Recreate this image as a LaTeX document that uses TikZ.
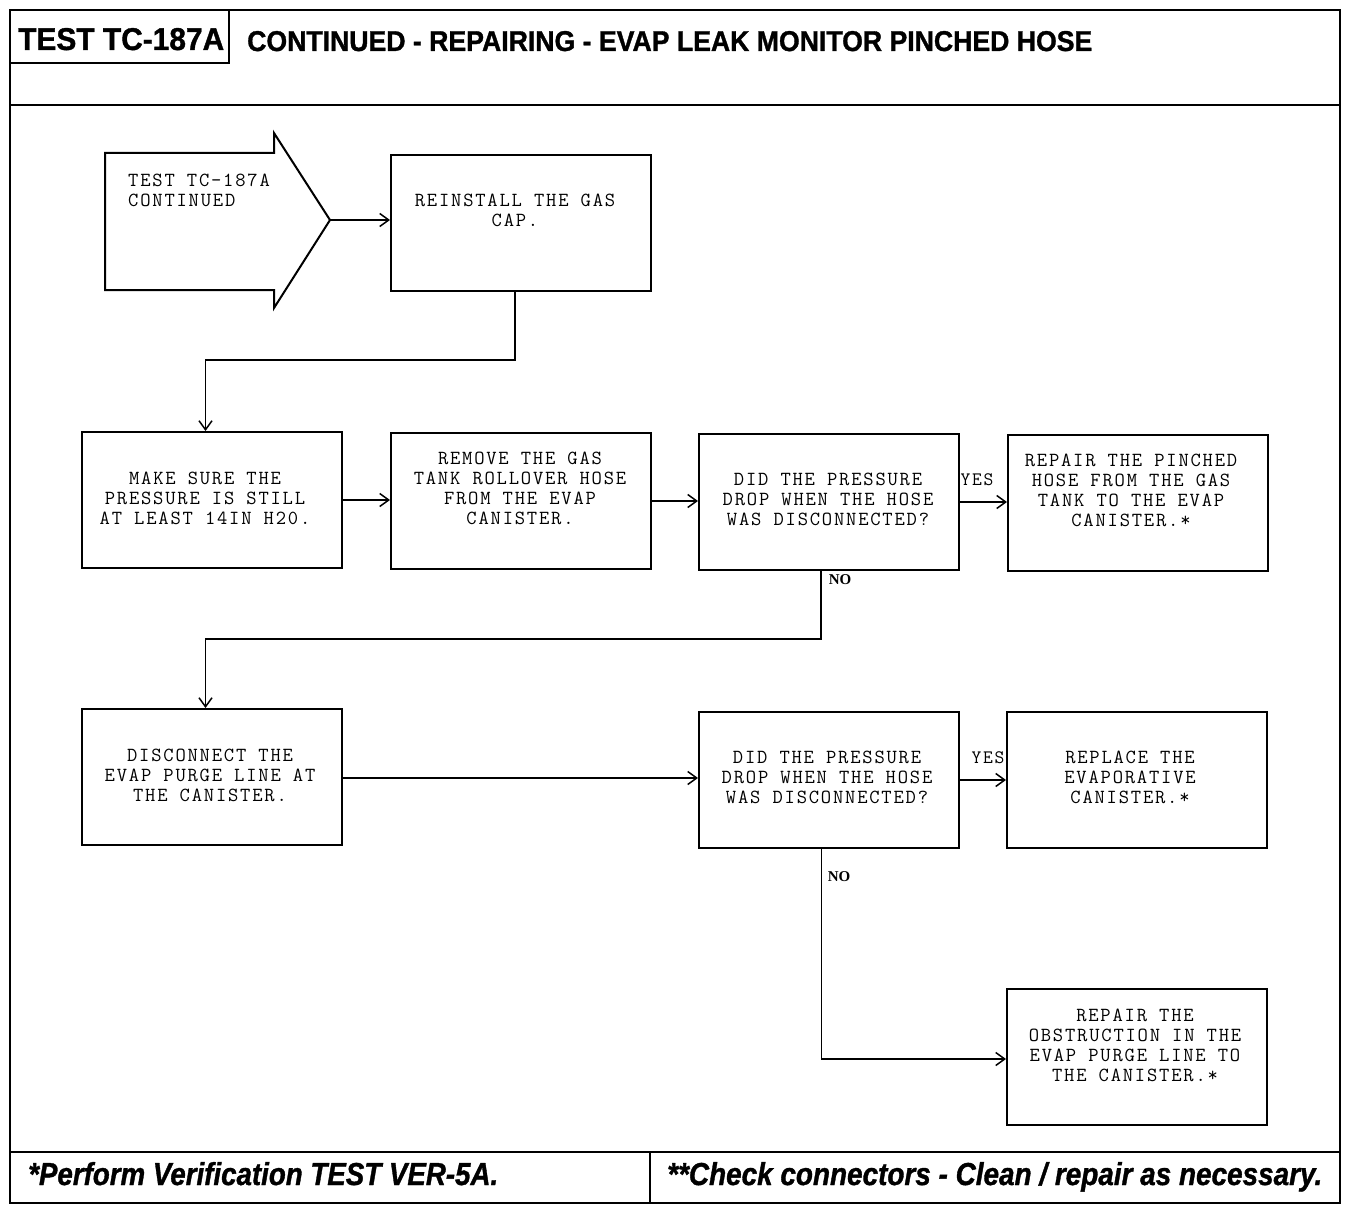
\documentclass[tikz,border=0pt]{standalone}
\usepackage{fontspec}
\setmainfont{Liberation Serif}
\newfontfamily\boxfont[LetterSpace=9]{Latin Modern Mono}
\newfontfamily\headfont{Liberation Sans}[UprightFont=* Bold, UprightFeatures={FakeBold=1.2}, ItalicFont=* Bold Italic, ItalicFeatures={FakeBold=1.2}]
\usetikzlibrary{arrows.meta}
\begin{document}
\begin{tikzpicture}[x=1pt,y=-1pt,
  stepbox/.style={draw, line width=2pt, minimum width=260pt, minimum height=136pt, inner sep=0pt, anchor=north west},
  txt/.style={font=\boxfont\fontsize{20}{20}\selectfont, align=center, anchor=north, inner sep=0pt},
  conn/.style={line width=1.5pt, -{Straight Barb[length=9pt,width=13pt]}},
  frame/.style={line width=2.5pt},
  yeslbl/.style={font=\boxfont\fontsize{19}{20}\selectfont, inner sep=0pt},
  nolbl/.style={font=\bfseries\fontsize{15}{17}\selectfont, inner sep=0pt},
  hdr/.style={inner sep=0pt, anchor=base west}
]
\useasboundingbox (0,0) rectangle (1360,1212);
% frame
\draw[frame] (10,10) rectangle (1340,1203);
\draw[frame] (10,105) -- (1340,105);
\draw[frame] (10,10) rectangle (229,63);
\draw[frame] (10,1152) -- (1340,1152);
\draw[frame] (650,1152) -- (650,1203);
\node[hdr] (lbl) at (18,50) {\resizebox{206pt}{22pt}{\headfont TEST TC-187A}};
\node[hdr] (title) at (247,51) {\resizebox{845pt}{20pt}{\headfont CONTINUED - REPAIRING - EVAP LEAK MONITOR PINCHED HOSE}};
\node[hdr] (foot1) at (28,1185) {\resizebox{470pt}{23pt}{\headfont\itshape *Perform Verification TEST VER-5A.}};
\node[hdr] (foot2) at (667,1185) {\resizebox{655pt}{23pt}{\headfont\itshape **Check connectors - Clean / repair as necessary.}};
% start arrow
\draw[line width=2pt] (105,153) -- (274,153) -- (274,133) -- (330,220) -- (274,308) -- (274,290) -- (105,290) -- cycle;
\coordinate (arrowtip) at (330,220);
\node[txt, anchor=north west, align=left] (starttxt) at (128,174) {TEST TC-187A\\CONTINUED};
% boxes
\node[stepbox] (b1) at (390,154) {};
\node[stepbox] (b2) at (81,431) {};
\node[stepbox] (b3) at (390,432) {};
\node[stepbox] (b4) at (698,433) {};
\node[stepbox] (b5) at (1007,434) {};
\node[stepbox] (b6) at (81,708) {};
\node[stepbox] (b7) at (698,711) {};
\node[stepbox] (b8) at (1006,711) {};
\node[stepbox] (b9) at (1006,988) {};
% texts
\node[txt] (t1) at (515,194) {REINSTALL THE GAS\\CAP.};
\node[txt] (t2) at (205,472) {MAKE SURE THE\\PRESSURE IS STILL\\AT LEAST 14IN H20.};
\node[txt] (t3) at (520,452) {REMOVE THE GAS\\TANK ROLLOVER HOSE\\FROM THE EVAP\\CANISTER.};
\node[txt] (t4) at (828,473) {DID THE PRESSURE\\DROP WHEN THE HOSE\\WAS DISCONNECTED?};
\node[txt] (t5) at (1131,454) {REPAIR THE PINCHED\\HOSE FROM THE GAS\\TANK TO THE EVAP\\CANISTER.*};
\node[txt] (t6) at (210,749) {DISCONNECT THE\\EVAP PURGE LINE AT\\THE CANISTER.};
\node[txt] (t7) at (827,751) {DID THE PRESSURE\\DROP WHEN THE HOSE\\WAS DISCONNECTED?};
\node[txt] (t8) at (1130,751) {REPLACE THE\\EVAPORATIVE\\CANISTER.*};
\node[txt] (t9) at (1135,1009) {REPAIR THE\\OBSTRUCTION IN THE\\EVAP PURGE LINE TO\\THE CANISTER.*};
% connectors
\draw[conn] (arrowtip) -- (arrowtip -| b1.west);
\draw[conn] ([xshift=-6pt]b1.south) -- ++(0,68) -| ([xshift=-6.5pt]b2.north);
\draw[conn] (b2.east) -- (b2.east -| b3.west);
\draw[conn] (b3.east) -- (b3.east -| b4.west);
\draw[conn] (b4.east) -- (b4.east -| b5.west);
\draw[conn] ([xshift=-8pt]b4.south) -- ++(0,68) -| ([xshift=-6.5pt]b6.north);
\draw[conn] ([yshift=-1pt]b6.east) -- ([yshift=-1pt]b6.east -| b7.west);
\draw[conn] (b7.east) -- (b7.east -| b8.west);
\draw[conn] ([xshift=-7.5pt]b7.south) |- ([yshift=-2pt]b9.west);
% labels
\node[yeslbl] (yes1) at (977,480) {YES};
\node[yeslbl] (yes2) at (988,758) {YES};
\node[nolbl] (no1) at (840,580) {NO};
\node[nolbl] (no2) at (839,877) {NO};
\end{tikzpicture}
\end{document}
